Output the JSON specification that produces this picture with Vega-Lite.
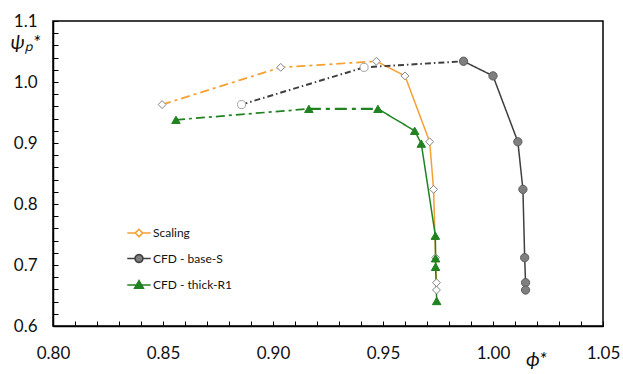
{
  "$schema": "https://vega.github.io/schema/vega-lite/v6.json",
  "width": 550,
  "height": 305,
  "autosize": "none",
  "padding": {"left": 53, "top": 21, "right": 20, "bottom": 48},
  "background": "white",
  "config": {
    "view": {"stroke": "black", "strokeWidth": 1.5},
    "font": "Lato",
    "axis": {
      "grid": false,
      "domainColor": "black",
      "domainWidth": 1.5,
      "tickColor": "black",
      "tickWidth": 1,
      "labelFont": "Lato",
      "labelFontSize": 17,
      "labelColor": "#111",
      "titleFont": "Lato",
      "titleFontSize": 20,
      "titleFontWeight": "normal",
      "titleFontStyle": "italic",
      "titleColor": "#111"
    }
  },
  "datasets": {
    "pts": [
      {"series": "Scaling", "marker": "Scaling", "phi": 0.8496, "psi": 0.963},
      {"series": "Scaling", "marker": "Scaling", "phi": 0.9035, "psi": 1.024},
      {"series": "Scaling", "marker": "Scaling", "phi": 0.947, "psi": 1.034},
      {"series": "Scaling", "marker": "Scaling", "phi": 0.960, "psi": 1.010},
      {"series": "Scaling", "marker": "Scaling", "phi": 0.9712, "psi": 0.902},
      {"series": "Scaling", "marker": "Scaling", "phi": 0.973, "psi": 0.824},
      {"series": "Scaling", "marker": "Scaling", "phi": 0.9739, "psi": 0.712},
      {"series": "Scaling", "marker": "Scaling", "phi": 0.9743, "psi": 0.671},
      {"series": "Scaling", "marker": "Scaling", "phi": 0.9743, "psi": 0.659},
      {"series": "CFD - base-S", "marker": "base-open", "phi": 0.8857, "psi": 0.963},
      {"series": "CFD - base-S", "marker": "base-open", "phi": 0.9414, "psi": 1.024},
      {"series": "CFD - base-S", "marker": "base", "phi": 0.9866, "psi": 1.034},
      {"series": "CFD - base-S", "marker": "base", "phi": 1.000, "psi": 1.010},
      {"series": "CFD - base-S", "marker": "base", "phi": 1.0113, "psi": 0.902},
      {"series": "CFD - base-S", "marker": "base", "phi": 1.0136, "psi": 0.824},
      {"series": "CFD - base-S", "marker": "base", "phi": 1.0144, "psi": 0.712},
      {"series": "CFD - base-S", "marker": "base", "phi": 1.0148, "psi": 0.671},
      {"series": "CFD - base-S", "marker": "base", "phi": 1.0148, "psi": 0.659},
      {"series": "CFD - thick-R1", "marker": "thick", "phi": 0.8559, "psi": 0.938},
      {"series": "CFD - thick-R1", "marker": "thick", "phi": 0.9163, "psi": 0.956},
      {"series": "CFD - thick-R1", "marker": "thick", "phi": 0.9477, "psi": 0.956},
      {"series": "CFD - thick-R1", "marker": "thick", "phi": 0.9644, "psi": 0.920},
      {"series": "CFD - thick-R1", "marker": "thick", "phi": 0.9674, "psi": 0.899},
      {"series": "CFD - thick-R1", "marker": "thick", "phi": 0.9738, "psi": 0.748},
      {"series": "CFD - thick-R1", "marker": "thick", "phi": 0.9739, "psi": 0.711},
      {"series": "CFD - thick-R1", "marker": "thick", "phi": 0.9739, "psi": 0.697},
      {"series": "CFD - thick-R1", "marker": "thick", "phi": 0.9744, "psi": 0.641}
    ],
    "segs": [
      {"series": "Scaling", "seg": "S1", "style": "dashdot", "i": 1, "phi": 0.8496, "psi": 0.963},
      {"series": "Scaling", "seg": "S1", "style": "dashdot", "i": 2, "phi": 0.9035, "psi": 1.024},
      {"series": "Scaling", "seg": "S1", "style": "dashdot", "i": 3, "phi": 0.947, "psi": 1.034},
      {"series": "Scaling", "seg": "S2", "style": "solid", "i": 1, "phi": 0.947, "psi": 1.034},
      {"series": "Scaling", "seg": "S2", "style": "solid", "i": 2, "phi": 0.960, "psi": 1.010},
      {"series": "Scaling", "seg": "S2", "style": "solid", "i": 3, "phi": 0.9712, "psi": 0.902},
      {"series": "Scaling", "seg": "S2", "style": "solid", "i": 4, "phi": 0.973, "psi": 0.824},
      {"series": "Scaling", "seg": "S2", "style": "solid", "i": 5, "phi": 0.9739, "psi": 0.712},
      {"series": "Scaling", "seg": "S2", "style": "solid", "i": 6, "phi": 0.9743, "psi": 0.671},
      {"series": "Scaling", "seg": "S2", "style": "solid", "i": 7, "phi": 0.9743, "psi": 0.659},
      {"series": "CFD - base-S", "seg": "B1", "style": "dashdotthin", "i": 1, "phi": 0.8857, "psi": 0.963},
      {"series": "CFD - base-S", "seg": "B1", "style": "dashdotthin", "i": 2, "phi": 0.9414, "psi": 1.024},
      {"series": "CFD - base-S", "seg": "B1", "style": "dashdotthin", "i": 3, "phi": 0.9866, "psi": 1.034},
      {"series": "CFD - base-S", "seg": "B2", "style": "solid", "i": 1, "phi": 0.9866, "psi": 1.034},
      {"series": "CFD - base-S", "seg": "B2", "style": "solid", "i": 2, "phi": 1.000, "psi": 1.010},
      {"series": "CFD - base-S", "seg": "B2", "style": "solid", "i": 3, "phi": 1.0113, "psi": 0.902},
      {"series": "CFD - base-S", "seg": "B2", "style": "solid", "i": 4, "phi": 1.0136, "psi": 0.824},
      {"series": "CFD - base-S", "seg": "B2", "style": "solid", "i": 5, "phi": 1.0144, "psi": 0.712},
      {"series": "CFD - base-S", "seg": "B2", "style": "solid", "i": 6, "phi": 1.0148, "psi": 0.671},
      {"series": "CFD - base-S", "seg": "B2", "style": "solid", "i": 7, "phi": 1.0148, "psi": 0.659},
      {"series": "CFD - thick-R1", "seg": "T1", "style": "dashdot", "i": 1, "phi": 0.8559, "psi": 0.938},
      {"series": "CFD - thick-R1", "seg": "T1", "style": "dashdot", "i": 2, "phi": 0.9163, "psi": 0.956},
      {"series": "CFD - thick-R1", "seg": "T2", "style": "dashdotthick", "i": 1, "phi": 0.9163, "psi": 0.956},
      {"series": "CFD - thick-R1", "seg": "T2", "style": "dashdotthick", "i": 2, "phi": 0.9477, "psi": 0.956},
      {"series": "CFD - thick-R1", "seg": "T3", "style": "solid", "i": 1, "phi": 0.9477, "psi": 0.956},
      {"series": "CFD - thick-R1", "seg": "T3", "style": "solid", "i": 2, "phi": 0.9644, "psi": 0.920},
      {"series": "CFD - thick-R1", "seg": "T3", "style": "solid", "i": 3, "phi": 0.9674, "psi": 0.899},
      {"series": "CFD - thick-R1", "seg": "T3", "style": "solid", "i": 4, "phi": 0.9738, "psi": 0.748},
      {"series": "CFD - thick-R1", "seg": "T3", "style": "solid", "i": 5, "phi": 0.9739, "psi": 0.711},
      {"series": "CFD - thick-R1", "seg": "T3", "style": "solid", "i": 6, "phi": 0.9739, "psi": 0.697},
      {"series": "CFD - thick-R1", "seg": "T3", "style": "solid", "i": 7, "phi": 0.9744, "psi": 0.641}
    ]
  },
  "encoding": {
    "x": {
      "field": "phi",
      "type": "quantitative",
      "scale": {"domain": [0.8, 1.05], "nice": false, "zero": false},
      "axis": {
        "title": "ϕ*",
        "titleX": 483,
        "titleY": 33,
        "titleAlign": "center",
        "titleBaseline": "middle",
        "values": [0.8, 0.81, 0.82, 0.83, 0.84, 0.85, 0.86, 0.87, 0.88, 0.89, 0.9, 0.91, 0.92, 0.93, 0.94, 0.95, 0.96, 0.97, 0.98, 0.99, 1.0, 1.01, 1.02, 1.03, 1.04, 1.05],
        "labelExpr": "round(datum.value * 100) % 5 === 0 ? format(datum.value, '.2f') : ''",
        "tickSize": -5,
        "labelPadding": 24,
        "labelFlush": false,
        "labelOverlap": false
      }
    },
    "y": {
      "field": "psi",
      "type": "quantitative",
      "scale": {"domain": [0.6, 1.1], "nice": false, "zero": false},
      "axis": {
        "title": "ψₚ*",
        "titleAngle": 0,
        "titleX": -28,
        "titleY": 21,
        "titleAlign": "center",
        "titleBaseline": "middle",
        "values": [0.6, 0.62, 0.64, 0.66, 0.68, 0.7, 0.72, 0.74, 0.76, 0.78, 0.8, 0.82, 0.84, 0.86, 0.88, 0.9, 0.92, 0.94, 0.96, 0.98, 1.0, 1.02, 1.04, 1.06, 1.08, 1.1],
        "labelExpr": "round(datum.value * 100) % 10 === 0 ? format(datum.value, '.1f') : ''",
        "tickSize": -5,
        "labelPadding": 21,
        "labelFlush": false,
        "labelOverlap": false
      }
    }
  },
  "layer": [
    {
      "data": {"name": "segs"},
      "mark": {"type": "line", "clip": true},
      "encoding": {
        "detail": {"field": "seg"},
        "order": {"field": "i", "type": "quantitative"},
        "color": {
          "field": "series",
          "type": "nominal",
          "scale": {
            "domain": ["Scaling", "CFD - base-S", "CFD - thick-R1"],
            "range": ["#F5A033", "#3F3F3F", "#218221"]
          },
          "legend": {
            "title": null,
            "orient": "none",
            "legendX": 79,
            "legendY": 205,
            "padding": 0,
            "symbolSize": 144,
            "labelOffset": 7,
            "rowPadding": 10.5,
            "labelFont": "Lato",
            "labelFontSize": 12,
            "labelColor": "#111",
            "encode": {
              "symbols": {
                "update": {
                  "shape": {"signal": "datum.value === 'Scaling' ? 'M-1.95,0H-0.62M0.62,0H1.95M0,-0.62L0.62,0L0,0.62L-0.62,0Z' : datum.value === 'CFD - base-S' ? 'M-1.95,0H-0.65M0.65,0H1.95M-0.65,0A0.65,0.65,0,1,1,0.65,0A0.65,0.65,0,1,1,-0.65,0Z' : 'M-1.95,0H1.95M0,-0.72L0.72,0.52L-0.72,0.52Z'"},
                  "fill": {"signal": "datum.value === 'Scaling' ? 'white' : datum.value === 'CFD - base-S' ? '#7F7F7F' : '#218221'"},
                  "stroke": {"signal": "datum.value === 'Scaling' ? '#F5A033' : datum.value === 'CFD - base-S' ? '#3F3F3F' : '#218221'"},
                  "strokeWidth": {"value": 1.6},
                  "strokeDash": {"value": [1, 0]},
                  "opacity": {"value": 1}
                }
              }
            }
          }
        },
        "strokeDash": {
          "field": "style",
          "type": "nominal",
          "scale": {
            "domain": ["solid", "dashdot", "dashdotthin", "dashdotthick"],
            "range": [[1, 0], [9, 4, 3, 4], [6, 3, 1.5, 3], [12, 5, 4, 5]]
          },
          "legend": null
        },
        "strokeWidth": {
          "field": "style",
          "type": "ordinal",
          "scale": {
            "domain": ["solid", "dashdot", "dashdotthin", "dashdotthick"],
            "range": [1.5, 2.2, 1.2, 3.2]
          },
          "legend": null
        }
      }
    },
    {
      "data": {"name": "pts"},
      "mark": {"type": "point", "filled": true, "opacity": 1, "strokeWidth": 1, "clip": true},
      "encoding": {
        "shape": {
          "field": "marker",
          "type": "nominal",
          "scale": {
            "domain": ["Scaling", "base-open", "base", "thick"],
            "range": ["diamond", "circle", "circle", "triangle-up"]
          },
          "legend": null
        },
        "size": {
          "field": "marker",
          "type": "ordinal",
          "scale": {
            "domain": ["Scaling", "base-open", "base", "thick"],
            "range": [62, 72, 72, 88]
          },
          "legend": null
        },
        "fill": {
          "field": "marker",
          "type": "nominal",
          "scale": {
            "domain": ["Scaling", "base-open", "base", "thick"],
            "range": ["white", "white", "#7F7F7F", "#218221"]
          },
          "legend": null
        },
        "stroke": {
          "field": "marker",
          "type": "nominal",
          "scale": {
            "domain": ["Scaling", "base-open", "base", "thick"],
            "range": ["#858585", "#A3A3A3", "#5E5E5E", "#218221"]
          },
          "legend": null
        }
      }
    }
  ]
}
